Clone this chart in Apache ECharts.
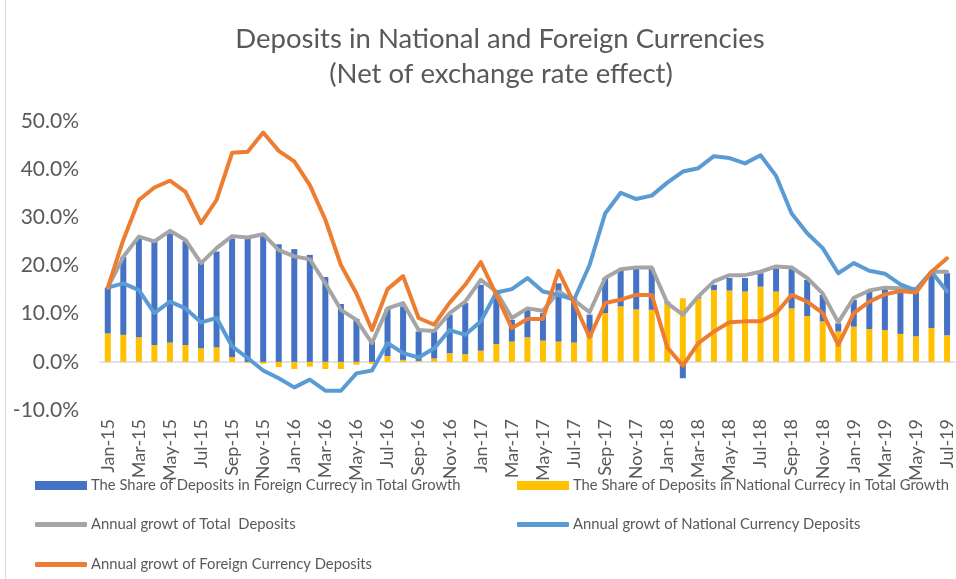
<!DOCTYPE html>
<html>
<head>
<meta charset="utf-8">
<script src="https://cdn.jsdelivr.net/npm/echarts@6/dist/echarts.min.js"></script>
<style>
  html, body { margin: 0; padding: 0; background: #ffffff; }
  #chart { width: 956px; height: 579px; }
</style>
</head>
<body>
<div id="chart"></div>
<script>
// Monthly categories, Jan-15 .. Jul-19
const months = [
  'Jan-15','Feb-15','Mar-15','Apr-15','May-15','Jun-15','Jul-15','Aug-15','Sep-15','Oct-15','Nov-15','Dec-15',
  'Jan-16','Feb-16','Mar-16','Apr-16','May-16','Jun-16','Jul-16','Aug-16','Sep-16','Oct-16','Nov-16','Dec-16',
  'Jan-17','Feb-17','Mar-17','Apr-17','May-17','Jun-17','Jul-17','Aug-17','Sep-17','Oct-17','Nov-17','Dec-17',
  'Jan-18','Feb-18','Mar-18','Apr-18','May-18','Jun-18','Jul-18','Aug-18','Sep-18','Oct-18','Nov-18','Dec-18',
  'Jan-19','Feb-19','Mar-19','Apr-19','May-19','Jun-19','Jul-19'
];

// Contribution of foreign-currency deposits to total growth (pp)
const foreignShare = [
  9.5, 16.2, 20.5, 21.5, 22.7, 21.5, 17.7, 19.9, 24.6, 25.5,
  26.5, 24.4, 23.4, 22.2, 17.6, 12.0, 8.9, 4.5, 9.8, 11.1,
  6.1, 5.6, 8.0, 10.6, 13.7, 10.9, 4.5, 5.7, 5.7, 12.1,
  9.2, 4.7, 7.3, 7.6, 8.5, 8.6, 0.3, -3.4, 0.3, 1.1,
  2.6, 2.8, 2.8, 4.8, 8.3, 7.5, 5.5, 1.7, 5.6, 7.8,
  8.5, 9.1, 9.3, 11.7, 12.9
];

// Contribution of national-currency deposits to total growth (pp)
const nationalShare = [
  5.9, 5.6, 5.1, 3.5, 4.0, 3.5, 2.8, 3.0, 1.0, -0.2,
  -0.4, -1.1, -1.5, -1.0, -1.5, -1.5, -0.6, -0.4, 1.2, 0.4,
  0.2, 0.7, 1.8, 1.6, 2.3, 3.7, 4.2, 5.1, 4.4, 4.2,
  4.0, 5.1, 10.1, 11.5, 10.9, 10.8, 12.2, 13.2, 13.2, 14.9,
  14.8, 14.6, 15.6, 14.6, 11.1, 9.5, 8.4, 6.3, 7.3, 6.8,
  6.6, 5.8, 5.3, 7.0, 5.5
];

// Annual growth of total deposits (%)
const totalGrowth = [
  15.4, 21.8, 26.0, 25.0, 27.2, 25.3, 20.5, 23.6, 26.1, 25.8,
  26.5, 23.2, 21.9, 21.3, 16.3, 10.8, 8.7, 3.9, 11.1, 12.2,
  6.6, 6.4, 10.1, 12.5, 17.0, 14.6, 9.1, 11.1, 10.6, 14.6,
  12.8, 10.3, 17.4, 19.2, 19.6, 19.6, 12.2, 9.8, 13.6, 16.7,
  18.0, 18.0, 18.7, 19.8, 19.6, 17.4, 14.2, 8.2, 13.3, 14.8,
  15.4, 15.3, 15.1, 18.7, 18.7
];

// Annual growth of national-currency deposits (%)
const nationalGrowth = [
  15.4, 16.3, 14.9, 10.1, 12.5, 11.1, 8.2, 9.1, 3.2, 0.8,
  -1.8, -3.4, -5.3, -3.7, -6.0, -6.0, -2.4, -1.8, 3.9, 1.8,
  0.9, 2.8, 6.6, 5.6, 8.4, 14.4, 15.1, 17.4, 14.6, 13.9,
  12.9, 20.1, 30.8, 35.1, 33.8, 34.5, 37.2, 39.5, 40.2, 42.7,
  42.3, 41.2, 42.9, 38.6, 30.8, 26.7, 23.6, 18.4, 20.5, 18.9,
  18.3, 16.1, 14.8, 18.7, 14.6
];

// Annual growth of foreign-currency deposits (%)
const foreignGrowth = [
  15.4, 25.3, 33.6, 36.2, 37.6, 35.3, 28.8, 33.6, 43.4, 43.6,
  47.6, 43.8, 41.6, 36.7, 29.5, 20.1, 14.2, 6.6, 15.1, 17.8,
  9.1, 7.7, 12.3, 16.0, 20.7, 13.9, 7.0, 8.9, 8.9, 18.9,
  12.2, 5.1, 12.2, 12.9, 13.9, 13.9, 3.0, -0.8, 3.9, 6.3,
  8.2, 8.4, 8.4, 10.1, 13.9, 12.5, 10.1, 3.5, 10.1, 12.5,
  14.0, 14.7, 14.4, 18.7, 21.5
];

// Axis tick settings
const yMin = -10, yMax = 50, yStep = 10;

const names = {
  fShare: 'The Share of Deposits in Foreign Currecy in Total Growth',
  nShare: 'The Share of Deposits in National Currecy in Total Growth',
  total: 'Annual growt of Total  Deposits',
  nGrowth: 'Annual growt of National Currency Deposits',
  fGrowth: 'Annual growt of Foreign Currency Deposits'
};

const FONT = 'Lato';
const TEXT = '#595959';

const chart = echarts.init(document.getElementById('chart'), null, { renderer: 'canvas' });

function legendItem(name, left, top, isLine) {
  return {
    data: [name],
    left: left,
    top: top,
    orient: 'horizontal',
    padding: 0,
    icon: isLine ? 'roundRect' : 'rect',
    itemWidth: 52,
    itemHeight: isLine ? 5 : 9,
    selectedMode: false,
    textStyle: { fontFamily: FONT, fontSize: 14.8, color: TEXT, padding: [0, 0, 0, -1] }
  };
}

chart.setOption({
  animation: false,
  backgroundColor: '#ffffff',
  graphic: [
    { type: 'line', shape: { x1: 5.5, y1: 0, x2: 5.5, y2: 579 }, style: { stroke: '#D9D9D9', lineWidth: 1 } },
    { type: 'text', x: 500, y: 39, style: { text: 'Deposits in National and Foreign Currencies', font: '27.5px ' + FONT, fill: TEXT, textAlign: 'center', textVerticalAlign: 'middle' } },
    { type: 'text', x: 501, y: 74, style: { text: '(Net of exchange rate effect)', font: '27.5px ' + FONT, fill: TEXT, textAlign: 'center', textVerticalAlign: 'middle' } }
  ],
  legend: [
    legendItem(names.fShare, 35, 478, false),
    legendItem(names.nShare, 517, 478, false),
    legendItem(names.total, 35, 517, true),
    legendItem(names.nGrowth, 517, 517, true),
    legendItem(names.fGrowth, 35, 557, true)
  ],
  grid: { left: 100, top: 121, width: 860, height: 289, containLabel: false },
  xAxis: {
    type: 'category',
    data: months,
    boundaryGap: true,
    axisLine: { onZero: true, lineStyle: { color: '#D9D9D9', width: 1.5 } },
    axisTick: { show: false },
    axisLabel: { rotate: 90, interval: 1, fontFamily: FONT, fontSize: 18, color: TEXT, margin: 9 },
    splitLine: { show: false }
  },
  yAxis: {
    type: 'value',
    min: yMin, max: yMax, interval: yStep,
    axisLine: { show: false },
    axisTick: { show: false },
    splitLine: { show: false },
    axisLabel: {
      fontFamily: FONT, fontSize: 21, color: TEXT, margin: 21,
      formatter: v => v.toFixed(1) + '%'
    }
  },
  series: [
    {
      name: names.nShare, type: 'bar', stack: 'share', data: nationalShare,
      barWidth: 6, itemStyle: { color: '#FFC000' }, z: 2
    },
    {
      name: names.fShare, type: 'bar', stack: 'share', data: foreignShare,
      barWidth: 6, itemStyle: { color: '#4472C4' }, z: 2
    },
    {
      name: names.total, type: 'line', data: totalGrowth, symbol: 'none',
      lineStyle: { color: '#A5A5A5', width: 4, join: 'round', cap: 'round' }, itemStyle: { color: '#A5A5A5' }, z: 3
    },
    {
      name: names.nGrowth, type: 'line', data: nationalGrowth, symbol: 'none',
      lineStyle: { color: '#5B9BD5', width: 4, join: 'round', cap: 'round' }, itemStyle: { color: '#5B9BD5' }, z: 4
    },
    {
      name: names.fGrowth, type: 'line', data: foreignGrowth, symbol: 'none',
      lineStyle: { color: '#ED7D31', width: 4, join: 'round', cap: 'round' }, itemStyle: { color: '#ED7D31' }, z: 5
    }
  ]
});
</script>
</body>
</html>
